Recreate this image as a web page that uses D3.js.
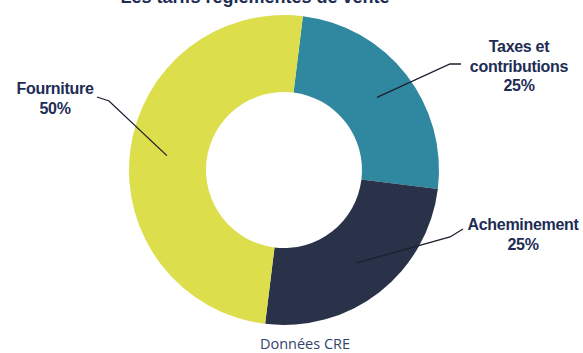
<!DOCTYPE html>
<html>
<head>
<meta charset="utf-8">
<script src="https://cdn.jsdelivr.net/npm/d3@7"></script>
<style>
  body { margin: 0; background: #fff; }
  svg { display: block; }
</style>
</head>
<body>
<div id="canvas"></div>
<script>
// canvas size
const width = 583, height = 353;

// data
const categories = ["Taxes et contributions", "Acheminement", "Fourniture"];
const shares = [25, 25, 50];
const labelLines = [["Taxes et", "contributions", "25%"], ["Acheminement", "25%"], ["Fourniture", "50%"]];
const colors = ["#2f889f", "#293249", "#dcde4c"];
const title = "Les tarifs réglementés de vente";
const source = "Données CRE";

// donut geometry
const cx = 284, cy = 170;
const outerR = 155, innerR = 78;
const startAngle = 7 * Math.PI / 180;

// where the leader lines end up and where the text sits
const labelPos = [
  { x: 519, y: 52, elbow: [450, 64], end: [461, 64] },
  { x: 523, y: 230, elbow: [450, 237], end: [463, 229] },
  { x: 55, y: 94, elbow: [109, 101], end: [97, 97] }
];

const svg = d3.select("#canvas")
  .append("svg")
  .attr("width", width)
  .attr("height", height);

const pie = d3.pie()
  .sort(null)
  .value(d => d)
  .startAngle(startAngle)
  .endAngle(startAngle + 2 * Math.PI);

const arc = d3.arc().innerRadius(innerR).outerRadius(outerR);
// leader lines start on this radius, at the middle of each slice
const anchorArc = d3.arc().innerRadius(118).outerRadius(118);

const arcs = pie(shares);

const g = svg.append("g").attr("transform", `translate(${cx},${cy})`);

g.selectAll("path.slice")
  .data(arcs)
  .join("path")
  .attr("class", "slice")
  .attr("d", arc)
  .attr("fill", (d, i) => colors[i]);

// leader lines
svg.selectAll("polyline.leader")
  .data(arcs)
  .join("polyline")
  .attr("class", "leader")
  .attr("points", (d, i) => {
    const p = labelPos[i];
    const c = anchorArc.centroid(d);
    return [[cx + c[0], cy + c[1]], p.elbow, p.end].map(q => q.join(",")).join(" ");
  })
  .attr("fill", "none")
  .attr("stroke", "#1b1f2e")
  .attr("stroke-width", 1.3);

// labels
const labels = svg.selectAll("text.lbl")
  .data(categories)
  .join("text")
  .attr("class", "lbl")
  .attr("text-anchor", "middle")
  .attr("font-family", "'Liberation Sans Narrow', 'Arial Narrow', sans-serif")
  .attr("font-weight", "bold")
  .attr("font-size", 16)
  .attr("letter-spacing", -0.3)
  .attr("fill", "#1e2c55")
  .attr("transform", (d, i) => `translate(${labelPos[i].x},${labelPos[i].y})`);

labels.selectAll("tspan")
  .data((d, i) => labelLines[i])
  .join("tspan")
  .attr("x", 0)
  .attr("dy", (d, j) => j === 0 ? 0 : 19.5)
  .text(d => d);

// cut-off title at the top
svg.append("text")
  .attr("x", 255)
  .attr("y", 3)
  .attr("text-anchor", "middle")
  .attr("font-family", "'Liberation Sans', sans-serif")
  .attr("font-weight", "bold")
  .attr("font-size", 18)
  .attr("fill", "#1e2c55")
  .text(title);

// source
svg.append("text")
  .attr("x", 305)
  .attr("y", 349)
  .attr("text-anchor", "middle")
  .attr("font-family", "'Open Sans', sans-serif")
  .attr("font-size", 14.5)
  .attr("fill", "#33436a")
  .text(source);
</script>
</body>
</html>
